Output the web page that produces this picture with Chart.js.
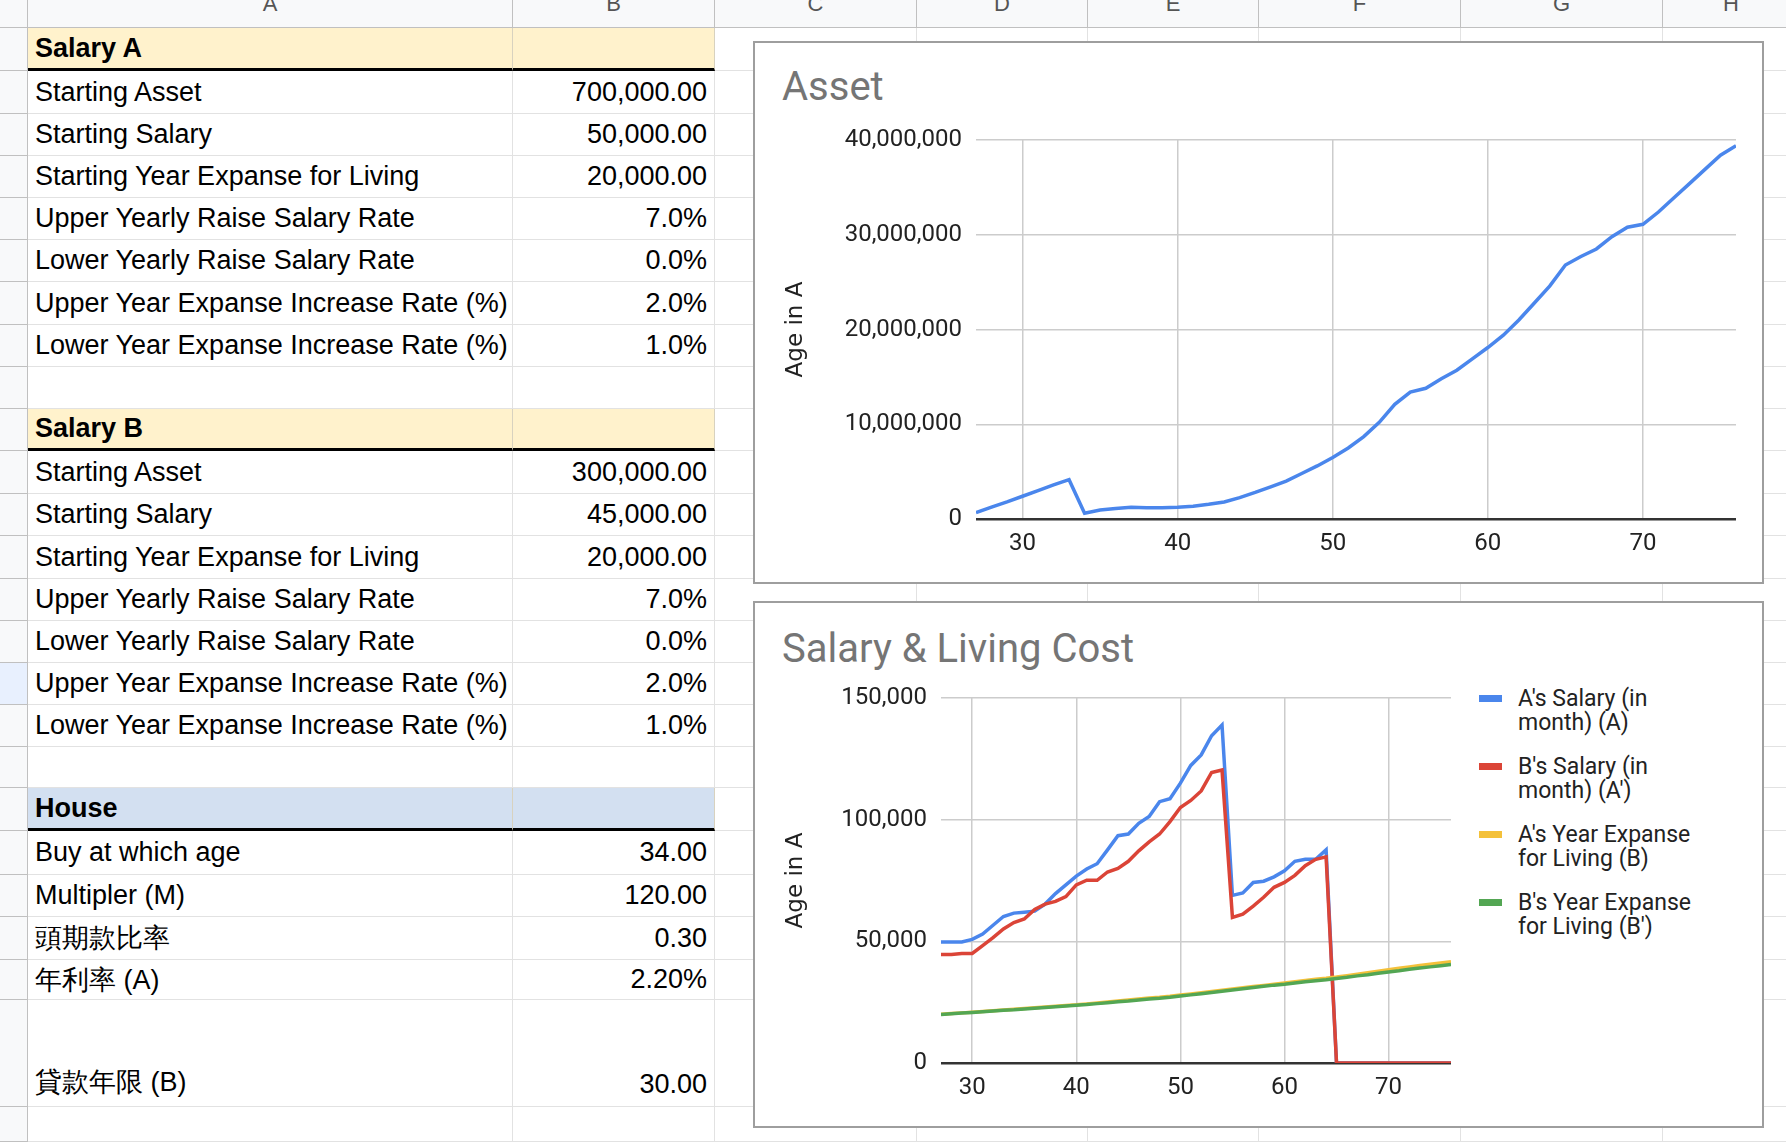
<!DOCTYPE html>
<html><head><meta charset="utf-8">
<script src="https://cdn.jsdelivr.net/npm/chart.js@4"></script>
<style>
body{margin:0;width:1786px;height:1142px;overflow:hidden;background:#fff;font-family:"Liberation Sans",Arial,sans-serif;position:relative}
.cell{position:absolute;box-sizing:border-box;border-right:1px solid #e2e2e2;border-bottom:1px solid #e2e2e2;font-size:27px;color:#000;white-space:nowrap;overflow:hidden;display:flex;align-items:center;padding:0 7px}
.box{position:absolute;background:#fff;border:2px solid #9e9e9e;box-sizing:border-box}
.ctitle{position:absolute;font-family:Roboto,sans-serif;font-size:40px;color:#757575}
.leg{position:absolute;font-family:Roboto,sans-serif;font-size:23px;line-height:24px;color:#222}
.sw{position:absolute;width:23px;height:7px}
</style></head><body>
<div id="sheet"></div>
<div class="box" style="left:753px;top:41px;width:1011px;height:543px">
  <div class="ctitle" style="left:27px;top:20px">Asset</div>
  <canvas id="c1" width="1007" height="539" style="position:absolute;left:0;top:0;width:1007px;height:539px"></canvas>
</div>
<div class="box" style="left:753px;top:601px;width:1011px;height:527px">
  <div class="ctitle" style="left:27px;top:22px">Salary &amp; Living Cost</div>
  <canvas id="c2" width="700" height="523" style="position:absolute;left:0;top:0;width:700px;height:523px"></canvas>
  <div id="legend"></div>
</div>
<script>
// ---- data ----
const ages = [27,28,29,30,31,32,33,34,35,36,37,38,39,40,41,42,43,44,45,46,47,48,49,50,51,52,53,54,55,56,57,58,59,60,61,62,63,64,65,66,67,68,69,70,71,72,73,74,75,76];
const assetA = [0.67,1.25,1.8,2.4,3.0,3.6,4.15,0.6,0.95,1.1,1.23,1.2,1.2,1.23,1.35,1.55,1.8,2.25,2.8,3.4,4.0,4.8,5.6,6.5,7.5,8.7,10.2,12.1,13.4,13.8,14.8,15.7,16.9,18.1,19.4,21.0,22.8,24.6,26.8,27.7,28.5,29.8,30.8,31.1,32.4,33.9,35.4,36.9,38.4,39.4].map(v=>v*1e6);
const salaryA = [49.7,49.7,49.7,50.8,53,56.6,60.2,61.6,62,62.4,65.3,69.6,73.2,76.8,79.7,81.9,87.6,93.4,94.1,98.5,101.3,107.4,108.6,115,122.3,126.6,134.5,138.9,68.9,69.9,74.2,74.7,76.5,79,82.9,83.7,83.7,87.6,0,0,0,0,0,0,0,0,0,0,0,0].map(v=>v*1000);
const salaryB = [44.6,44.6,45,45,48.2,51.5,55.1,57.7,59.2,63.1,65.3,66.4,68.4,73.2,75.1,75.1,78.5,80,82.9,87.2,90.9,94.1,99.2,105,107.9,111.8,119.4,120.4,59.8,61.2,64.5,68.1,72.2,74.2,77.1,81.1,83.7,84.7,0,0,0,0,0,0,0,0,0,0,0,0].map(v=>v*1000);
const expenseA = [20.0,20.3,20.6,20.9,21.2,21.5,21.8,22.1,22.4,22.7,23.0,23.3,23.6,23.9,24.3,24.7,25.1,25.5,25.9,26.3,26.7,27.0,27.4,27.9,28.4,28.9,29.4,29.9,30.4,30.9,31.4,31.9,32.4,32.9,33.4,33.9,34.4,34.8,35.3,35.9,36.5,37.1,37.7,38.3,38.9,39.5,40.1,40.6,41.1,41.6].map(v=>v*1000);
const expenseB = [19.9,20.2,20.5,20.8,21.1,21.4,21.7,21.9,22.2,22.5,22.8,23.1,23.4,23.7,24.0,24.4,24.8,25.2,25.5,25.9,26.3,26.6,27.0,27.5,28.0,28.5,29.0,29.5,30.0,30.5,31.0,31.5,32.0,32.4,32.9,33.4,33.8,34.2,34.7,35.2,35.8,36.3,36.9,37.4,37.9,38.5,39.0,39.5,40.0,40.5].map(v=>v*1000);
const seriesNames = ["A's Salary (in month) (A)","B's Salary (in month) (A')","A's Year Expanse for Living (B)","B's Year Expanse for Living (B')"];
const seriesColors = ["#4a86ec","#db4437","#f4c13a","#53a653"];
const colLetters = ["","A","B","C","D","E","F","G","H"];
const labelsA = ["Starting Asset","Starting Salary","Starting Year Expanse for Living","Upper Yearly Raise Salary Rate","Lower Yearly Raise Salary Rate","Upper Year Expanse Increase Rate (%)","Lower Year Expanse Increase Rate (%)"];
const valuesA = ["700,000.00","50,000.00","20,000.00","7.0%","0.0%","2.0%","1.0%"];
const valuesB = ["300,000.00","45,000.00","20,000.00","7.0%","0.0%","2.0%","1.0%"];
const houseLabels = ["Buy at which age","Multipler (M)","頭期款比率","年利率 (A)","貸款年限 (B)"];
const houseValues = ["34.00","120.00","0.30","2.20%","30.00"];

// ---- spreadsheet ----
const colX=[0,28,513,715,917,1088,1259,1461,1663,1800];
const rowY=[0,28,71,114,156,198,240,282,325,367,409,451,494,536,579,621,663,705,747,788,831,875,917,960,1000,1107,1142];
const rows=[];
rows.push({a:"Salary A",hdr:"#fff2cc"});
labelsA.forEach((l,i)=>rows.push({a:l,b:valuesA[i]}));
rows.push({});
rows.push({a:"Salary B",hdr:"#fff2cc"});
labelsA.forEach((l,i)=>rows.push({a:l,b:valuesB[i]}));
rows.push({});
rows.push({a:"House",hdr:"#d3e0f1"});
houseLabels.slice(0,4).forEach((l,i)=>rows.push({a:l,b:houseValues[i]}));
rows.push({a:houseLabels[4],b:houseValues[4],bottom:true});
rows.push({});
const sh=document.getElementById('sheet');
function cell(x,y,w,h,txt,st){const d=document.createElement('div');d.className='cell';d.style.cssText+=`left:${x}px;top:${y}px;width:${w}px;height:${h}px;`+(st||'');if(txt!==undefined)d.textContent=txt;sh.appendChild(d);return d;}
for(let c=0;c<9;c++){cell(colX[c],0,colX[c+1]-colX[c],28,colLetters[c],'background:#f8f9fa;justify-content:center;align-items:flex-start;font-size:22px;color:#555;line-height:8px;border-color:#c0c0c0');}
rows.forEach((r,i)=>{
  const y=rowY[i+1],h=rowY[i+2]-y;
  cell(0,y,28,h,'', 'background:#f8f9fa;border-color:#c0c0c0'+(i===15?';background:#e8f0fe':''));
  for(let c=1;c<9;c++){
    let st='', t;
    if(c===1&&r.a){t=r.a;}
    if(c===2&&r.b){t=r.b;st+='justify-content:flex-end;';}
    if(r.hdr&&c<=2){st+=`background:${r.hdr};border-bottom:3px solid #000;border-right-color:#d8d2bf;`;if(c===1)st+='font-weight:bold;';}
    if(r.bottom)st+='align-items:flex-end;padding-bottom:6px;';
    cell(colX[c],y,colX[c+1]-colX[c],h,t,st);
  }
});

// ---- charts ----
const tickFont={family:'Roboto',size:24};
function xScale(){return {type:'linear',min:27,max:76,
  afterBuildTicks:s=>{s.ticks=[30,40,50,60,70].map(v=>({value:v}));},
  grid:{color:'#cccccc',lineWidth:1.5,drawTicks:false},border:{display:false},
  ticks:{font:tickFont,color:'#222',padding:11}};}
function yScale(max,step,w){return {min:0,max:max,
  grid:{color:c=>c.tick.value===0?'#333':'#cccccc',lineWidth:c=>c.tick.value===0?2.5:1.5,drawTicks:false},border:{display:false},
  ticks:{font:tickFont,color:'#222',padding:14,stepSize:step,callback:v=>v.toLocaleString('en-US')},
  title:{display:true,text:'Age in A',font:{family:'DejaVu Sans',size:23},color:'#222',padding:{top:27,bottom:0}},
  afterFit:s=>{s.width=w;}};}
const common={responsive:false,animation:false,plugins:{legend:{display:false},tooltip:{enabled:false}},elements:{point:{radius:0},line:{tension:0,borderWidth:3.5}}};

new Chart(document.getElementById('c1'),{type:'line',
  data:{labels:ages,datasets:[{data:ages.map((a,i)=>({x:a,y:assetA[i]})),borderColor:seriesColors[0]}]},
  options:{...common,layout:{padding:{top:97,right:26,left:0,bottom:0}},
    scales:{x:{...xScale(),afterFit:s=>{s.height=63;}},y:yScale(40000000,10000000,221)}}});

const sal=[salaryA,salaryB,expenseA,expenseB];
new Chart(document.getElementById('c2'),{type:'line',
  data:{datasets:sal.map((arr,k)=>({label:seriesNames[k],data:ages.map((a,i)=>({x:a,y:arr[i]})),borderColor:seriesColors[k],order:4-k}))},
  options:{...common,layout:{padding:{top:95,right:4,left:0,bottom:0}},
    scales:{x:{...xScale(),afterFit:s=>{s.height=63;}},y:yScale(150000,50000,186)}}});

const lg=document.getElementById('legend');
const legY=[84,152,220,288];
seriesNames.forEach((n,k)=>{
  const s=document.createElement('div');s.className='sw';s.style.cssText+=`left:724px;top:${legY[k]+8}px;background:${seriesColors[k]}`;lg.appendChild(s);
  const t=document.createElement('div');t.className='leg';t.style.cssText+=`left:763px;top:${legY[k]}px;width:192px;white-space:normal`;t.textContent=n;lg.appendChild(t);
});
</script>
</body></html>
